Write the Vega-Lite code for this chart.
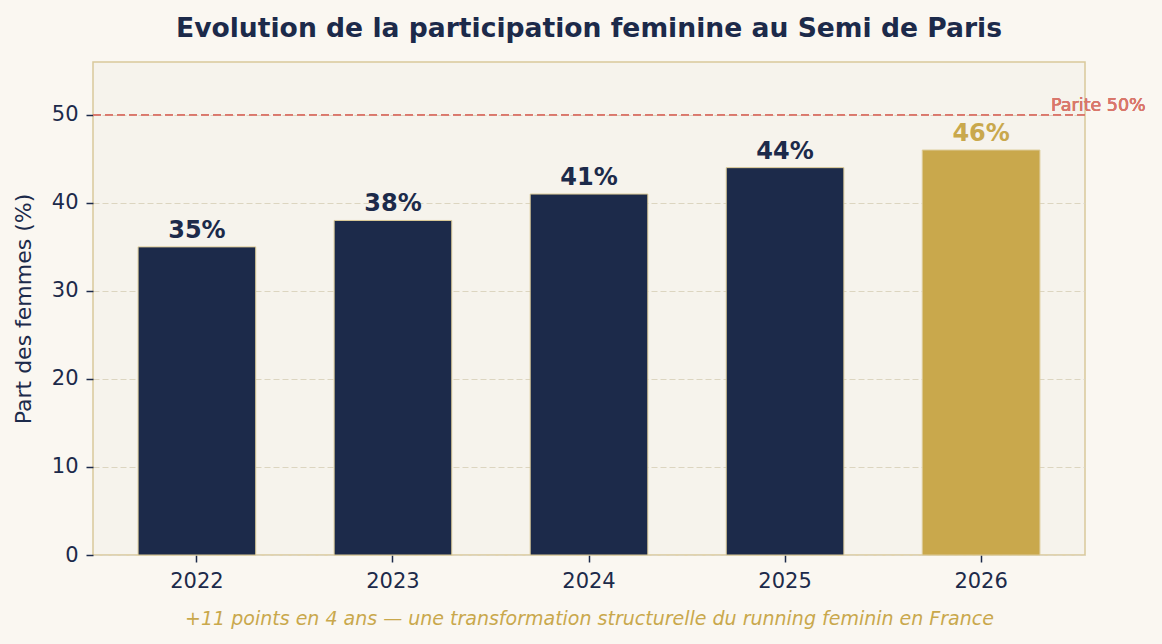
{
  "$schema": "https://vega.github.io/schema/vega-lite/v6.json",
  "autosize": "none",
  "width": 992,
  "height": 493,
  "padding": {"left": 93, "top": 62, "right": 77, "bottom": 89},
  "background": "#faf7f1",
  "title": {
    "text": "Evolution de la participation feminine au Semi de Paris",
    "font": "DejaVu Sans",
    "fontSize": 26.6,
    "fontWeight": "bold",
    "color": "#1c2a4a",
    "anchor": "middle",
    "offset": 19
  },
  "config": {
    "view": {"fill": "#f6f3ec", "stroke": "#d9c99a", "strokeWidth": 1.5},
    "font": "DejaVu Sans"
  },
  "data": {
    "values": [
      {"year": "2022", "pct": 35, "label": "35%"},
      {"year": "2023", "pct": 38, "label": "38%"},
      {"year": "2024", "pct": 41, "label": "41%"},
      {"year": "2025", "pct": 44, "label": "44%"},
      {"year": "2026", "pct": 46, "label": "46%"}
    ]
  },
  "layer": [
    {
      "mark": {"type": "bar", "stroke": "#dccb98", "strokeWidth": 1},
      "encoding": {
        "x": {
          "field": "year",
          "type": "nominal",
          "sort": null,
          "scale": {"paddingInner": 0.4, "paddingOuter": 0.23},
          "axis": {
            "title": "+11 points en 4 ans \u2014 une transformation structurelle du running feminin en France",
            "titleFont": "DejaVu Sans",
            "titleFontSize": 19,
            "titleFontStyle": "italic",
            "titleFontWeight": "normal",
            "titleColor": "#c9a84c",
            "titlePadding": 18,
            "labelAngle": 0,
            "labelFontSize": 21,
            "labelColor": "#1c2a4a",
            "labelPadding": 8,
            "tickColor": "#1c2a4a",
            "tickSize": 7,
            "tickWidth": 1.5,
            "domain": false,
            "grid": false
          }
        },
        "y": {
          "field": "pct",
          "type": "quantitative",
          "scale": {"domain": [0, 56], "nice": false},
          "axis": {
            "title": "Part des femmes (%)",
            "titleFontSize": 22,
            "titleFontWeight": "normal",
            "titleColor": "#1c2a4a",
            "titlePadding": 16,
            "values": [0, 10, 20, 30, 40, 50],
            "labelFontSize": 21,
            "labelColor": "#1c2a4a",
            "labelPadding": 8,
            "tickColor": "#1c2a4a",
            "tickSize": 7,
            "tickWidth": 1.5,
            "domain": false,
            "grid": true,
            "gridColor": "#dcd5c0",
            "gridDash": [6, 3],
            "gridWidth": 1
          }
        },
        "color": {
          "field": "year",
          "type": "nominal",
          "scale": {"domain": ["2022", "2023", "2024", "2025", "2026"], "range": ["#1c2a4a", "#1c2a4a", "#1c2a4a", "#1c2a4a", "#c9a84c"]},
          "legend": null
        }
      }
    },
    {
      "mark": {"type": "text", "fontSize": 24, "fontWeight": "bold", "baseline": "alphabetic", "dy": -9},
      "encoding": {
        "x": {"field": "year", "type": "nominal", "sort": null},
        "y": {"field": "pct", "type": "quantitative"},
        "text": {"field": "label"},
        "color": {"field": "year", "type": "nominal", "legend": null}
      }
    },
    {
      "mark": {"type": "rule", "color": "#d9776b", "strokeDash": [8, 4], "strokeWidth": 1.5, "opacity": 0.75},
      "encoding": {"y": {"datum": 50, "type": "quantitative"}}
    },
    {
      "mark": {"type": "text", "color": "#d9776b", "opacity": 0.9, "fontSize": 17.5, "fontWeight": "normal", "align": "left", "baseline": "middle", "dx": 70, "dy": -9},
      "encoding": {
        "x": {"datum": "2026", "type": "nominal"},
        "y": {"datum": 50, "type": "quantitative"},
        "text": {"value": "Parite 50%"}
      }
    }
  ]
}
